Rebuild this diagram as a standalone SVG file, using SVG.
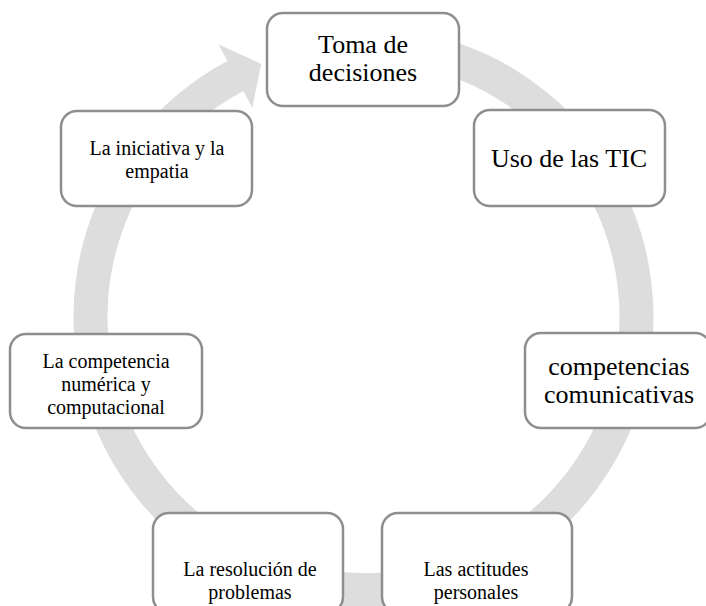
<svg xmlns="http://www.w3.org/2000/svg" width="706" height="606" viewBox="0 0 706 606">
<style>
.box{fill:#ffffff;stroke:#8e8e8e;stroke-width:2.5}
.ring{fill:#dddddd;stroke:none}
.lg{font-family:"Liberation Serif","Times New Roman",serif;font-size:26px;fill:#000;text-anchor:middle}
.sm{font-family:"Liberation Serif","Times New Roman",serif;font-size:20px;fill:#000;text-anchor:middle}
</style>
<rect width="706" height="606" fill="#ffffff"/>
<g id="connectors">
<path class="ring" d="M 388.78 28.10 A 290 290 0 1 1 227.35 60.94 L 218.43 44.17 L 261.23 63.88 L 252.24 107.74 L 243.32 90.96 A 256 256 0 1 0 385.81 61.98 Z"/>
</g>
<g id="node-toma">
<rect class="box" x="267" y="13" width="192" height="93" rx="16"/>
<text class="lg" x="363" y="53">Toma de</text>
<text class="lg" x="363" y="81">decisiones</text>
</g>
<g id="node-tic">
<rect class="box" x="474" y="110" width="191" height="96" rx="16"/>
<text class="lg" x="569" y="167">Uso de las TIC</text>
</g>
<g id="node-comunicativas">
<rect class="box" x="525" y="333" width="186" height="95" rx="16"/>
<text class="lg" x="619" y="375">competencias</text>
<text class="lg" x="619" y="403">comunicativas</text>
</g>
<g id="node-actitudes">
<rect class="box" x="382" y="513" width="190" height="100" rx="16"/>
<text class="sm" x="476" y="576">Las actitudes</text>
<text class="sm" x="476" y="599">personales</text>
</g>
<g id="node-resolucion">
<rect class="box" x="153" y="513" width="190" height="100" rx="16"/>
<text class="sm" x="250" y="576">La resolución de</text>
<text class="sm" x="250" y="599">problemas</text>
</g>
<g id="node-numerica">
<rect class="box" x="10" y="334" width="192" height="94" rx="16"/>
<text class="sm" x="106" y="368">La competencia</text>
<text class="sm" x="106" y="391">numérica y</text>
<text class="sm" x="106" y="414">computacional</text>
</g>
<g id="node-iniciativa">
<rect class="box" x="61" y="111" width="191" height="95" rx="16"/>
<text class="sm" x="157" y="155">La iniciativa y la</text>
<text class="sm" x="157" y="178">empatia</text>
</g>
</svg>
